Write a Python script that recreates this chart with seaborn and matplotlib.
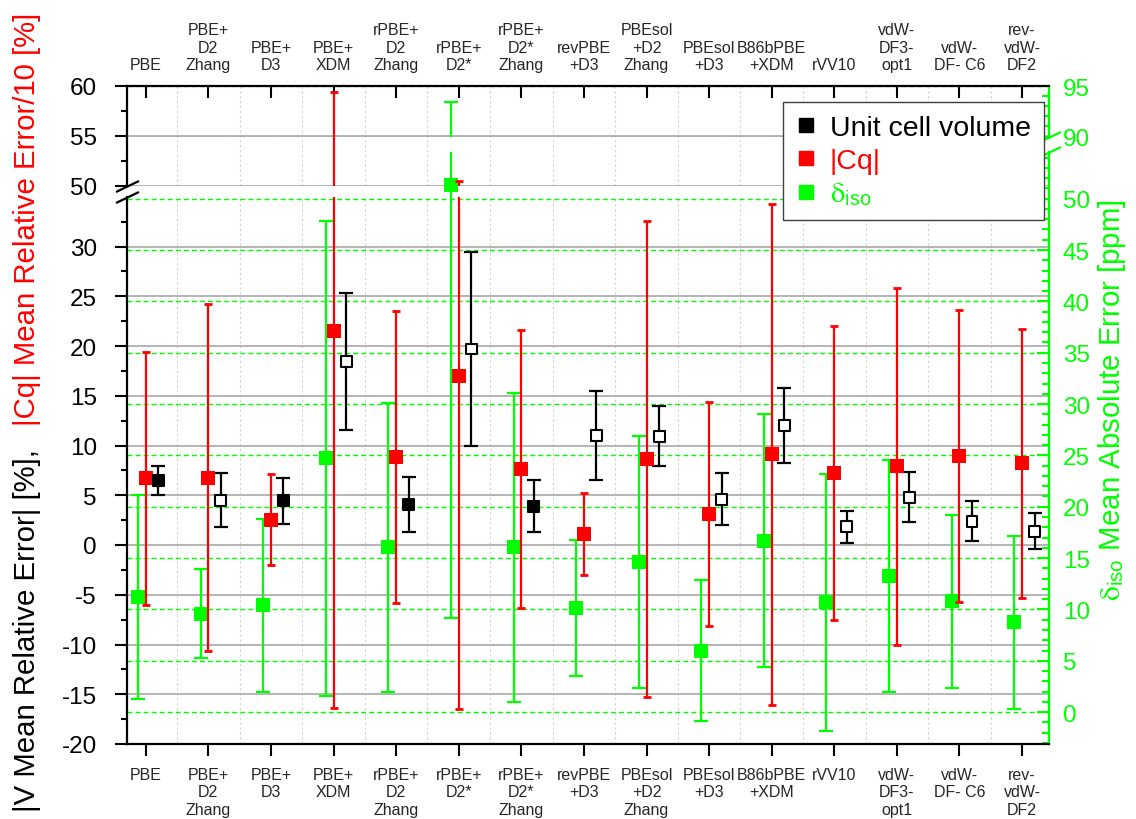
import numpy as np
import pandas as pd
import matplotlib
matplotlib.use("Agg")
import matplotlib.pyplot as plt
import seaborn as sns
from matplotlib.lines import Line2D
from matplotlib.ticker import MultipleLocator, FixedLocator

# ---------------------------------------------------------------- data
methods = ["PBE", "PBE+\nD2\nZhang", "PBE+\nD3", "PBE+\nXDM", "rPBE+\nD2\nZhang",
           "rPBE+\nD2*", "rPBE+\nD2*\nZhang", "revPBE\n+D3", "PBEsol\n+D2\nZhang",
           "PBEsol\n+D3", "B86bPBE\n+XDM", "rVV10", "vdW-\nDF3-\nopt1",
           "vdW-\nDF- C6", "rev-\nvdW-\nDF2"]

# |V| mean relative error [%] and spread
vol_err = [6.45, 4.5, 4.45, 18.45, 4.05, 19.7, 3.9, 11.0, 10.95, 4.6, 12.0, 1.85, 4.8, 2.4, 1.4]
vol_sd = [1.45, 2.7, 2.3, 6.85, 2.75, 9.7, 2.6, 4.5, 3.05, 2.6, 3.8, 1.6, 2.5, 2.0, 1.85]
vol_filled = [True, False, True, False, True, False, True, False, False, False,
              False, False, False, False, False]

# |Cq| mean relative error / 10 [%] and spread
cq_err = [6.7, 6.75, 2.55, 21.5, 8.85, 17.0, 7.65, 1.1, 8.66, 3.15, 9.1, 7.25, 7.9, 8.95, 8.2]
cq_sd = [12.7, 17.45, 4.6, 37.9, 14.65, 33.45, 13.95, 4.15, 23.95, 11.25, 25.2, 14.8, 17.9, 14.65, 13.5]

# delta_iso mean absolute error [ppm] and spread
diso_err = [11.2, 9.6, 10.4, 24.7, 16.05, 51.3, 16.05, 10.15, 14.65, 6.0, 16.7, 10.7, 13.3, 10.8, 8.75]
diso_sd = [9.9, 4.3, 8.4, 23.1, 14.05, 42.1, 15.05, 6.65, 12.25, 6.9, 12.3, 12.5, 11.3, 8.4, 8.45]

# ---------------------------------------------------------------- style
sns.set_style("white")
plt.rcParams["font.family"] = ["Liberation Sans", "DejaVu Sans"]
plt.rcParams["mathtext.fontset"] = "stix"
plt.rcParams["axes.unicode_minus"] = False

GREEN = "#00ff00"
RED = "#ff0000"
BLACK = "#000000"

W, H = 1136, 820
fig = plt.figure(figsize=(W / 100, H / 100), dpi=100, facecolor="white")

# panel geometry (pixels)
X0, X1 = 127, 1049
Y_TOP, Y_BOT = 87, 745
S_L = 9.95            # px per unit, left scale
S_R = 10.27           # px per unit, right scale
LL_LIM = (-20, 35)
LU_LIM = (50, 60)
RL_LIM = (-3.1, 54.5)
RU_LIM = (90, 95)
LL_TOP = Y_BOT - (LL_LIM[1] - LL_LIM[0]) * S_L
LU_BOT = Y_TOP + (LU_LIM[1] - LU_LIM[0]) * S_L
RL_TOP = Y_BOT - (RL_LIM[1] - RL_LIM[0]) * S_R
RU_BOT = Y_TOP + (RU_LIM[1] - RU_LIM[0]) * 10.1
XLIM = (-0.30, 14.43)

CAT_FS = 11.5
TICK_FS = 17.5
TITLE_FS = 21.2


def axes_at(top_px, bottom_px, **kw):
    return fig.add_axes([X0 / W, 1 - bottom_px / H, (X1 - X0) / W,
                         (bottom_px - top_px) / H], **kw)


n = len(methods)
pos = np.arange(n)
df = pd.DataFrame({
    "method": methods,
    "x_v": pos + 0.2, "x_c": pos + 0.0, "x_d": pos - 0.125,
    "vol": vol_err, "vol_sd": vol_sd,
    "fill": ["filled" if f else "open" for f in vol_filled],
    "cq": cq_err, "cq_sd": cq_sd,
    "diso": diso_err, "diso_sd": diso_sd,
})

# ---------------------------------------------------------------- layer A: grey grid
ga_lo = axes_at(LL_TOP, Y_BOT)
ga_up = axes_at(Y_TOP, LU_BOT, sharex=ga_lo)
ga_lo.set_ylim(*LL_LIM)
ga_up.set_ylim(*LU_LIM)
ga_lo.set_xlim(*XLIM)
ga_lo.xaxis.set_major_locator(FixedLocator(pos))
ga_lo.xaxis.set_minor_locator(FixedLocator(np.arange(-0.5, n, 1.0)))
ga_lo.yaxis.set_major_locator(FixedLocator(np.arange(-20, 31, 5)))
ga_lo.yaxis.set_minor_locator(FixedLocator(np.arange(-17.5, 34, 2.5)))
ga_up.yaxis.set_major_locator(MultipleLocator(5))
ga_up.yaxis.set_minor_locator(MultipleLocator(2.5))
for ax in (ga_lo, ga_up):
    ax.set_facecolor("white")
    ax.grid(axis="y", which="major", color="#a8a8a8", lw=1.2, ls="-")
    ax.grid(axis="x", which="minor", color="#d4d4d4", lw=0.8, ls=(0, (2.2, 2.2)))
    ax.grid(axis="x", which="major", visible=False)
    ax.tick_params(which="both", length=0, labelleft=False, labelbottom=False,
                   labeltop=False, labelright=False)
    for sp in ax.spines.values():
        sp.set_visible(False)

# ---------------------------------------------------------------- layer B: right axis (delta_iso)
rb_lo = axes_at(RL_TOP, Y_BOT, sharex=ga_lo)
rb_up = axes_at(Y_TOP, RU_BOT, sharex=ga_lo)
rb_lo.yaxis.set_major_locator(MultipleLocator(5))
rb_up.yaxis.set_major_locator(FixedLocator([90, 95]))
for ax in (rb_lo, rb_up):
    ax.set_facecolor("none")
    ax.yaxis.set_minor_locator(MultipleLocator(1))
    ax.grid(axis="y", which="major", color=GREEN, lw=1.0, ls=(0, (3.6, 2.2)))
    ax.grid(axis="x", visible=False)
    ax.yaxis.tick_right()
    ax.tick_params(axis="x", which="both", bottom=False, top=False,
                   labelbottom=False, labeltop=False)
    ax.tick_params(axis="y", which="both", left=False, right=True, labelleft=False,
                   labelright=True, direction="in", color=GREEN, labelcolor=GREEN,
                   width=1.5, labelsize=TICK_FS, pad=10)
    ax.tick_params(axis="y", which="major", length=8.6)
    ax.tick_params(axis="y", which="minor", length=5)
    for name, sp in ax.spines.items():
        sp.set_visible(name == "right")
    ax.spines["right"].set_color(GREEN)
    ax.spines["right"].set_linewidth(1.6)

    ax.errorbar(df["x_d"], df["diso"], yerr=df["diso_sd"], fmt="none", ecolor=GREEN,
                elinewidth=1.6, capsize=4.7, capthick=1.6, zorder=2)
    sns.scatterplot(data=df, x="x_d", y="diso", marker="s", color=GREEN, s=92,
                    linewidth=0, ax=ax, zorder=3, legend=False)
    ax.set_xlabel("")
    ax.set_ylabel("")
rb_lo.set_ylim(*RL_LIM)
rb_up.set_ylim(*RU_LIM)

# ---------------------------------------------------------------- layer C: left axis (V, Cq)
lc_lo = axes_at(LL_TOP, Y_BOT, sharex=ga_lo, sharey=ga_lo)
lc_up = axes_at(Y_TOP, LU_BOT, sharex=ga_lo, sharey=ga_up)
for ax in (lc_lo, lc_up):
    ax.set_facecolor("none")
    ax.grid(False)
    ax.errorbar(df["x_c"], df["cq"], yerr=df["cq_sd"], fmt="none", ecolor=RED,
                elinewidth=1.6, capsize=2.6, capthick=2.0, zorder=2)
    sns.scatterplot(data=df, x="x_c", y="cq", marker="s", color=RED, s=100,
                    linewidth=0, ax=ax, zorder=3, legend=False)
    ax.errorbar(df["x_v"], df["vol"], yerr=df["vol_sd"], fmt="none", ecolor=BLACK,
                elinewidth=1.6, capsize=4.7, capthick=1.6, zorder=2)
    sns.scatterplot(data=df, x="x_v", y="vol", hue="fill", marker="s",
                    palette={"filled": BLACK, "open": "white"}, edgecolor=BLACK,
                    linewidth=1.5, s=62, ax=ax, zorder=4, legend=False)
    ax.set_xlabel("")
    ax.set_ylabel("")
    ax.spines["right"].set_visible(False)
    for sp in ax.spines.values():
        sp.set_color(BLACK)
        sp.set_linewidth(1.6)
    ax.tick_params(axis="y", which="both", left=True, right=False, direction="out",
                   color=BLACK, width=1.5, labelsize=TICK_FS, pad=13, labelcolor=BLACK)
    ax.tick_params(axis="y", which="major", length=8.6)
    ax.tick_params(axis="y", which="minor", length=4.5)
    ax.tick_params(axis="x", which="minor", bottom=False, top=False)

lc_lo.set_xticks(pos, methods)
lc_lo.spines["top"].set_visible(False)
lc_up.spines["bottom"].set_visible(False)
lc_lo.tick_params(axis="x", which="major", bottom=True, top=False, labelbottom=True,
                  labeltop=False, direction="out", length=8.6, width=1.5,
                  labelsize=CAT_FS, pad=8, color=BLACK)
lc_up.tick_params(axis="x", which="major", bottom=False, top=True, labelbottom=False,
                  labeltop=True, direction="in", length=8.6, width=1.5,
                  labelsize=CAT_FS, pad=10, color=BLACK)
lc_lo.set_xlim(*XLIM)
lc_lo.set_ylim(*LL_LIM)
lc_up.set_ylim(*LU_LIM)

# axis-break marks
brk = dict(marker=[(-1, -0.48), (1, 0.48)], markersize=16.5, linestyle="none",
           mew=1.6, clip_on=False)
lc_up.plot([0], [0], transform=lc_up.transAxes, color=BLACK, mec=BLACK, **brk)
lc_lo.plot([0], [1], transform=lc_lo.transAxes, color=BLACK, mec=BLACK, **brk)
rb_up.plot([1], [0], transform=rb_up.transAxes, color=GREEN, mec=GREEN, **brk)
rb_lo.plot([1], [1], transform=rb_lo.transAxes, color=GREEN, mec=GREEN, **brk)

# ---------------------------------------------------------------- axis titles
fig.text(27 / W, 1 - 812 / H, "|V Mean Relative Error| [%],", rotation=90,
         ha="center", va="bottom", fontsize=TITLE_FS, color=BLACK)
fig.text(27 / W, 1 - 13 / H, "|Cq| Mean Relative Error/10 [%]", rotation=90,
         ha="center", va="top", fontsize=TITLE_FS, color=RED)
fig.text(1112 / W, 1 - 400 / H,
         r"$\mathrm{\delta}_{\mathregular{iso}}$ Mean Absolute Error [ppm]",
         rotation=90, ha="center", va="center", fontsize=TITLE_FS, color=GREEN)

# ---------------------------------------------------------------- legend
handles = [Line2D([], [], ls="none", marker="s", ms=9.5, mfc=c, mec=c)
           for c in (BLACK, RED, GREEN)]
labels = ["Unit cell volume", "|Cq|", r"$\mathrm{\delta}_{\mathregular{iso}}$"]
leg = fig.legend(handles, labels, loc="upper left",
                 bbox_to_anchor=(783 / W, 1 - 103 / H), frameon=True, fancybox=False,
                 edgecolor="#404040", framealpha=1, fontsize=20.5, handlelength=0.7,
                 handletextpad=0.5, borderpad=0.45, labelspacing=0.25, borderaxespad=0)
leg.get_frame().set_linewidth(1.0)
for t, c in zip(leg.get_texts(), (BLACK, RED, GREEN)):
    t.set_color(c)

fig.savefig("out.png", dpi=100, facecolor="white")
